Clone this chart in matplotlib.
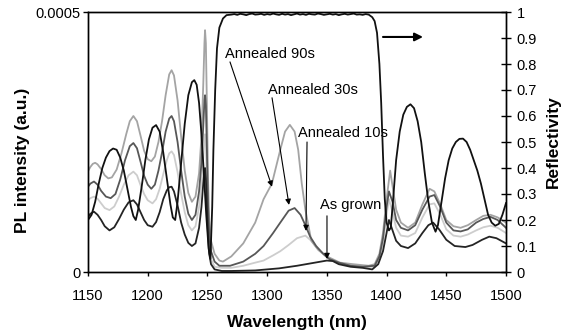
"""PL intensity of the annealed samples and reflectivity of the DBR stack."""

from matplotlib import pyplot
import numpy

# PL spectra, intensity in units of 1e-4 a.u.
wl_90s = [1150, 1152, 1154, 1156, 1158, 1161, 1164, 1167, 1170, 1174, 1178,
          1182, 1185, 1188, 1191, 1194, 1197, 1200, 1203, 1206, 1209, 1212,
          1215, 1218, 1220, 1222, 1225, 1228, 1231, 1234, 1237, 1240, 1243,
          1245, 1246.5, 1247.5, 1248, 1248.7, 1249.5, 1250.5, 1251.5, 1253,
          1256, 1260, 1263, 1270, 1280, 1290, 1297, 1304, 1311, 1315, 1319,
          1323, 1326, 1329, 1332, 1337, 1343, 1350, 1361, 1372, 1385, 1390,
          1394, 1397, 1400, 1403, 1405, 1408, 1412, 1418, 1424, 1430, 1436,
          1440, 1445, 1450, 1456, 1462, 1468, 1475, 1481, 1487, 1493, 1500]
pl_90s = [1.94, 2.02, 2.08, 2.1, 2.07, 1.98, 1.86, 1.8, 1.82, 1.97, 2.28,
          2.65, 2.9, 3.0, 2.9, 2.62, 2.33, 2.17, 2.13, 2.22, 2.5, 2.9,
          3.4, 3.8, 3.88, 3.78, 3.3, 2.6, 1.95, 1.52, 1.35, 1.45, 1.9,
          2.6, 3.6, 4.4, 4.65, 4.4, 3.3, 1.8, 1.0, 0.6,
          0.35, 0.22, 0.2, 0.3, 0.55, 0.95, 1.4, 1.7, 2.35, 2.7, 2.83,
          2.7, 2.35, 1.7, 1.2, 0.6, 0.42, 0.3, 0.18, 0.15, 0.12, 0.15,
          0.35, 0.75, 1.4, 1.95, 1.65, 1.2, 0.95, 0.85, 0.95, 1.3, 1.6,
          1.55, 1.3, 1.0, 0.88, 0.85, 0.9, 1.0, 1.08, 1.1, 1.05, 0.95]

wl_30s = [1150, 1152, 1155, 1158, 1161, 1165, 1169, 1173, 1177, 1181, 1185,
          1188, 1191, 1194, 1197, 1200, 1203, 1206, 1209, 1212, 1215, 1218,
          1220, 1222, 1225, 1228, 1231, 1234, 1237, 1240, 1243, 1245, 1246.5,
          1247.5, 1248, 1248.7, 1249.5, 1250.5, 1251.5, 1253, 1256, 1260,
          1269, 1280, 1290, 1297, 1305, 1311, 1318, 1323, 1328, 1332, 1336,
          1341, 1347, 1352, 1360, 1370, 1380, 1390, 1394, 1397, 1400, 1402,
          1405, 1408, 1412, 1418, 1424, 1430, 1436, 1440, 1445, 1450, 1456,
          1462, 1468, 1475, 1481, 1487, 1493, 1500]
pl_30s = [1.64, 1.7, 1.74, 1.68, 1.56, 1.45, 1.42, 1.5, 1.78, 2.15, 2.42,
          2.48, 2.38, 2.12, 1.85, 1.68, 1.6, 1.68, 1.95, 2.3, 2.7, 2.95,
          3.0, 2.9, 2.5, 1.95, 1.45, 1.12, 1.0, 1.1, 1.55, 2.1, 2.8,
          3.3, 3.4, 3.2, 2.4, 1.3, 0.7, 0.4, 0.2, 0.12,
          0.12, 0.2, 0.35, 0.5, 0.75, 0.95, 1.18, 1.23, 1.1, 0.9, 0.68,
          0.5, 0.35, 0.25, 0.18, 0.12, 0.1, 0.12, 0.3, 0.65, 1.25, 1.55,
          1.35, 1.0, 0.85, 0.8, 0.9, 1.2, 1.45, 1.48, 1.25, 0.95, 0.8,
          0.78, 0.82, 0.95, 1.02, 1.06, 1.0, 0.85]

wl_10s = [1150, 1152, 1155, 1158, 1161, 1164, 1168, 1172, 1176, 1180, 1184,
          1188, 1191, 1194, 1197, 1200, 1204, 1207, 1210, 1213, 1216, 1218,
          1220, 1222, 1225, 1228, 1231, 1234, 1237, 1240, 1243, 1245, 1246.5,
          1247.5, 1248, 1248.7, 1249.5, 1250.5, 1251.5, 1253, 1256, 1262,
          1270, 1280, 1290, 1297, 1305, 1311, 1318, 1325, 1332, 1337, 1342,
          1350, 1360, 1370, 1380, 1390, 1394, 1397, 1400, 1402, 1405, 1408,
          1412, 1418, 1424, 1430, 1436, 1440, 1445, 1450, 1456, 1462, 1468,
          1475, 1481, 1487, 1493, 1500]
pl_10s = [1.38, 1.42, 1.45, 1.41, 1.32, 1.23, 1.19, 1.26, 1.45, 1.68, 1.86,
          1.93, 1.86, 1.67, 1.5, 1.38, 1.32, 1.4, 1.6, 1.88, 2.15, 2.28,
          2.32, 2.25, 1.92, 1.5, 1.15, 0.9, 0.8, 0.88, 1.25, 1.7, 2.2,
          2.55, 2.65, 2.45, 1.8, 0.95, 0.5, 0.25, 0.1, 0.08,
          0.08, 0.12, 0.18, 0.22, 0.32, 0.4, 0.52, 0.65, 0.7, 0.6, 0.45,
          0.28, 0.18, 0.12, 0.1, 0.1, 0.25, 0.55, 1.1, 1.4, 1.15, 0.85,
          0.7, 0.68, 0.75, 1.05, 1.3, 1.32, 1.1, 0.82, 0.7, 0.68, 0.72,
          0.8, 0.86, 0.89, 0.85, 0.75]

wl_grown = [1150, 1152, 1155, 1158, 1161, 1164, 1168, 1172, 1176, 1180, 1184,
            1188, 1191, 1194, 1197, 1200, 1204, 1207, 1210, 1213, 1216, 1218,
            1220, 1222, 1225, 1228, 1231, 1234, 1237, 1240, 1243, 1245,
            1246.5, 1247.5, 1248, 1248.7, 1249.5, 1250.5, 1251.5, 1253, 1256,
            1262, 1270, 1290, 1310, 1325, 1340, 1350, 1355, 1360, 1370, 1380,
            1388, 1393, 1397, 1400, 1402, 1405, 1408, 1412, 1418, 1424, 1430,
            1435, 1439, 1444, 1450, 1457, 1466, 1472, 1480, 1486, 1492, 1500]
pl_grown = [1.06, 1.12, 1.16, 1.1, 1.0, 0.88, 0.8, 0.86, 1.02, 1.2, 1.34,
            1.38, 1.3, 1.15, 1.0, 0.9, 0.87, 0.96, 1.15, 1.4, 1.57, 1.63,
            1.64, 1.55, 1.28, 0.95, 0.72, 0.56, 0.5, 0.55, 0.85, 1.25,
            1.7, 1.95, 2.0, 1.8, 1.3, 0.7, 0.35, 0.15, 0.05,
            0.02, 0.02, 0.03, 0.07, 0.12, 0.18, 0.22, 0.21, 0.15, 0.1, 0.08,
            0.05, 0.15, 0.4, 0.75, 1.0, 0.8, 0.6, 0.5, 0.46, 0.55, 0.75,
            0.9, 0.95, 0.82, 0.62, 0.5, 0.48, 0.52, 0.62, 0.68, 0.65, 0.55]

# Reflectivity spectrum
wl_refl = [1150, 1153, 1156, 1159, 1162, 1165, 1168, 1171, 1174, 1177, 1180,
           1183, 1186, 1188, 1190, 1192, 1195, 1198, 1201, 1204, 1207, 1210,
           1213, 1216, 1219, 1221, 1223, 1225, 1228, 1231, 1234, 1237, 1239,
           1241, 1243, 1245, 1247, 1249, 1251, 1252.5, 1254,
           1255, 1256.5, 1258, 1260, 1263, 1266,
           1270, 1272.5, 1275, 1277.5, 1280, 1282.5, 1285, 1287.5, 1290,
           1292.5, 1295, 1297.5, 1300, 1302.5, 1305, 1307.5, 1310, 1312.5,
           1315, 1317.5, 1320, 1322.5, 1325, 1327.5, 1330, 1332.5, 1335,
           1337.5, 1340, 1342.5, 1345, 1347.5, 1350, 1352.5, 1355, 1357.5,
           1360, 1362.5, 1365, 1367.5, 1370, 1372.5, 1375, 1377.5, 1380,
           1382.5, 1385,
           1388, 1390, 1392, 1394, 1395.5, 1397, 1398.5, 1400, 1402, 1403.5,
           1405, 1408, 1411, 1414, 1417, 1420, 1423, 1426, 1429, 1432, 1435,
           1438, 1441, 1443, 1446, 1449, 1452, 1455, 1458, 1461, 1464, 1467,
           1470, 1473, 1476, 1479, 1482, 1485, 1488, 1491, 1494, 1497, 1500]
refl = [0.2, 0.22, 0.27, 0.34, 0.4, 0.44, 0.465, 0.475, 0.47, 0.44, 0.39,
        0.32, 0.25, 0.215, 0.2, 0.24, 0.33, 0.43, 0.51, 0.555, 0.565, 0.54,
        0.46, 0.36, 0.26, 0.21, 0.2, 0.27, 0.42, 0.57, 0.68, 0.73, 0.738,
        0.72, 0.65, 0.53, 0.38, 0.22, 0.09, 0.05, 0.25,
        0.47, 0.7, 0.86, 0.94, 0.975, 0.988,
        0.990, 0.992, 0.989, 0.993, 0.991, 0.988, 0.992, 0.994, 0.990,
        0.991, 0.993, 0.989, 0.992, 0.990, 0.994, 0.991, 0.989, 0.993,
        0.990, 0.992, 0.988, 0.991, 0.994, 0.990, 0.992, 0.989, 0.993,
        0.991, 0.990, 0.994, 0.992, 0.989, 0.991, 0.993, 0.990, 0.992,
        0.988, 0.991, 0.993, 0.990, 0.992, 0.994, 0.990, 0.991, 0.989,
        0.992, 0.990,
        0.98, 0.965, 0.92, 0.8, 0.65, 0.45, 0.28, 0.19, 0.16, 0.17,
        0.25, 0.43, 0.54, 0.605, 0.635, 0.645, 0.63, 0.58, 0.5, 0.38, 0.27,
        0.19, 0.155, 0.18, 0.27, 0.36, 0.43, 0.475, 0.5, 0.512, 0.513, 0.5,
        0.47, 0.43, 0.39, 0.34, 0.28, 0.22, 0.19, 0.178, 0.185, 0.22, 0.265]

pl_scale = 1e-4

pyplot.rcParams['font.family'] = ['Liberation Sans', 'DejaVu Sans']
pyplot.rcParams['font.size'] = 10.5

fig = pyplot.figure(figsize=(5.63, 3.34), dpi=100)
ax = fig.add_axes([88 / 563, 1 - 272 / 334, 418 / 563, 260 / 334])
ax2 = ax.twinx()

lw = 1.3
ax.plot(wl_10s, numpy.array(pl_10s) * pl_scale, color='#cdcdcd', lw=lw)
ax.plot(wl_90s, numpy.array(pl_90s) * pl_scale, color='#a4a4a4', lw=lw)
ax.plot(wl_30s, numpy.array(pl_30s) * pl_scale, color='#575757', lw=lw)
ax.plot(wl_grown, numpy.array(pl_grown) * pl_scale, color='#242424', lw=lw)
ax2.plot(wl_refl, refl, color='#111111', lw=lw)

ax.set_xlim(1150, 1500)
ax.set_ylim(0, 0.0005)
ax2.set_ylim(0, 1)
ax.set_xticks(range(1150, 1501, 50))
ax.set_yticks([0, 0.0005], ['0', '0.0005'])
ax2.set_yticks(numpy.arange(0, 1.01, 0.1),
               ['0'] + [f'{v / 10:.1f}' for v in range(1, 10)] + ['1'])
ax.tick_params(axis='x', direction='out', length=3, width=1, pad=9)
ax.tick_params(axis='y', direction='out', length=3.6, width=1, pad=2)
ax2.tick_params(axis='y', direction='inout', length=7, width=1, pad=4)
for a in (ax, ax2):
    for spine in a.spines.values():
        spine.set_linewidth(1.0)

fig.text(22 / 563, 1 - 160 / 334, 'PL intensity (a.u.)', rotation=90,
         fontsize=12.5, fontweight='bold', ha='center', va='center')
fig.text(553 / 563, 1 - 142 / 334, 'Reflectivity', rotation=90,
         fontsize=12.5, fontweight='bold', ha='center', va='center')
fig.text(297 / 563, 1 - 323 / 334, 'Wavelength (nm)',
         fontsize=12.5, fontweight='bold', ha='center', va='center')

# Annotations (positions in PL data coordinates)
head = dict(arrowstyle='-|>', color='black', lw=0.8, mutation_scale=8,
            shrinkA=0, shrinkB=0)
ax.text(1264.7, 4.19e-4, 'Annealed 90s', ha='left', va='center')
ax.annotate('', xy=(1304.1, 1.64e-4), xytext=(1268.9, 4.04e-4),
            arrowprops=head)
ax.text(1300.7, 3.5e-4, 'Annealed 30s', ha='left', va='center')
ax.annotate('', xy=(1318.3, 1.29e-4), xytext=(1304.1, 3.35e-4),
            arrowprops=head)
ax.text(1325.8, 2.67e-4, 'Annealed 10s', ha='left', va='center')
ax.annotate('', xy=(1332.5, 0.79e-4), xytext=(1333.4, 2.5e-4),
            arrowprops=head)
ax.text(1344.3, 1.29e-4, 'As grown', ha='left', va='center')
ax.annotate('', xy=(1350.1, 0.25e-4), xytext=(1350.1, 1.08e-4),
            arrowprops=head)
ax.annotate('', xy=(1430.5, 4.52e-4), xytext=(1397.0, 4.52e-4),
            arrowprops=dict(arrowstyle='-|>', color='black', lw=1.5,
                            mutation_scale=12, shrinkA=0, shrinkB=0))

fig.savefig('out.png', dpi=100)
